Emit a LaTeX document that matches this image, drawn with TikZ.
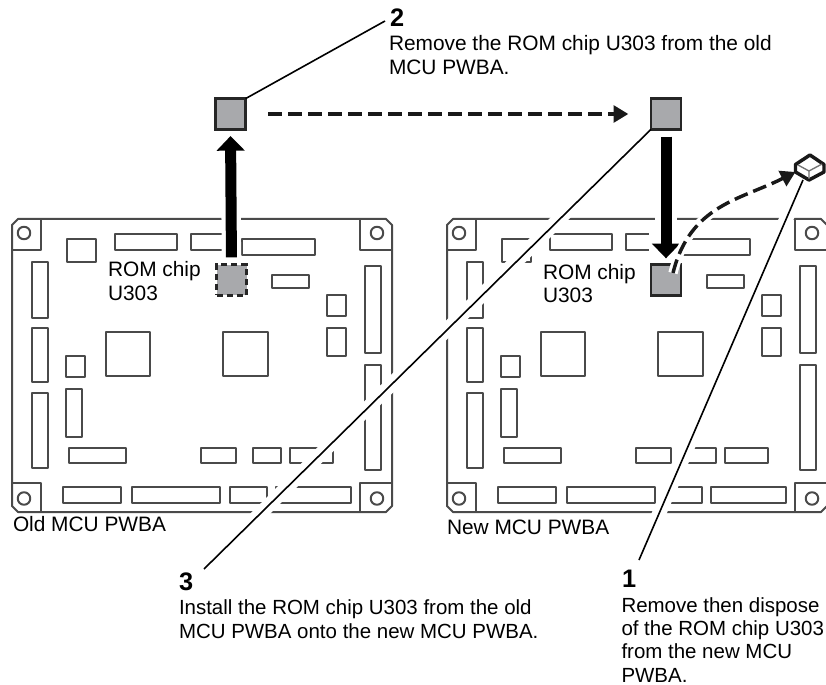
\documentclass[tikz,border=0pt]{standalone}
\usepackage{fontspec}
\setmainfont{Liberation Sans}
\usetikzlibrary{arrows.meta}
\definecolor{chipgray}{HTML}{A8A9AC}
\definecolor{boardline}{HTML}{4A4A4A}
\tikzset{
  boardpart/.style={draw=boardline,line width=1.5pt,line join=round},
  chipbox/.style={draw=black!85,line width=2.1pt,fill=chipgray,minimum width=22.5pt,minimum height=23pt,inner sep=0pt,outer sep=0pt},
  chipghost/.style={chipbox,dash pattern=on 4.5pt off 3pt,line width=2pt},
  label/.style={anchor=base west,inner sep=0pt,outer sep=0pt,font=\fontsize{15.65}{17.5}\selectfont,align=left},
  narrowlabel/.style={label,font=\fontsize{15.35}{17.5}\selectfont},
  stepnum/.style={anchor=base west,inner sep=0pt,outer sep=0pt,font=\fontsize{19}{20}\selectfont\bfseries},
  leader/.style={draw=black,line width=1.2pt},
  halo/.style={draw=white,line width=10.5pt},
  bigarrow/.style={draw=black,line width=8.25pt,-{Triangle[length=11pt,width=20.5pt]}},
  dasharrow/.style={draw=black!90,line width=2.6pt,dash pattern=on 10.5pt off 4.5pt,-{Triangle[length=11pt,width=12.5pt]}},
}
\newcommand{\pwboard}{%
  \draw[boardpart] (18,219)--(386,219)--(392,225)--(392,506)--(386,512)--(18,512)--(12,506)--(12,225)--cycle;
  \draw[boardpart] (12,250)--(41,250)--(41,219);
  \draw[boardpart] (360,219)--(360,250)--(392,250);
  \draw[boardpart] (12,483)--(41,483)--(41,512);
  \draw[boardpart] (392,483)--(360,483)--(360,512);
  \foreach \cx/\cy in {24/233,377/233,24/498.5,377/498.5}
    \draw[boardpart] (\cx,\cy) circle[radius=4.7pt];
  \foreach \xa/\ya/\xb/\yb in {
    67/239/96/262, 115/234/177/250, 191/234/230/250, 242/239/315/255,
    32/262/48/318, 32/328/48/382, 106/332/150/376, 223/332/268/376,
    272/275/309/288, 327/295/346/316, 327/328/346/356,
    365/266/381/353, 365/365/381/470, 66/356/85/377, 66/389/82/437,
    32/393/48/468, 69/448/126/463, 201/448/236/463, 253/448/281/463,
    290/448/333/463, 63/487/121/503, 132/487/220/503, 230/487/267/503,
    276/487/351/503}
    \draw[boardpart] (\xa,\ya) rectangle (\xb,\yb);
}
\begin{document}
\begin{tikzpicture}[x=0.75pt,y=-0.75pt]
\clip (0,0) rectangle (826,685);
\fill[white] (0,0) rectangle (826,685);
% boards
\pwboard
\begin{scope}[shift={(435,0)}]
\pwboard
\end{scope}
% free leader ends
\coordinate (endtwo) at (385,21);
\coordinate (endthree) at (204,569);
\coordinate (endone) at (639,560);
\coordinate (cubefoot) at (803,180);
\coordinate (cubeleft) at (795.5,172);
\coordinate (curvestart) at (673,273);
% chip positions
\coordinate (chipAat) at (230.5,114);
\coordinate (chipBat) at (666,114);
\coordinate (chipCat) at (231.5,280);
\coordinate (chipDat) at (666,280);
% leaders with halos
\path[halo,shorten <=40pt] (chipBat)++(-15.5,15) -- (endthree);
\path[halo,shorten <=8pt] (cubefoot) -- (endone);
\node[chipbox] (chipA) at (chipAat) {};
\node[chipbox] (chipB) at (chipBat) {};
\node[chipghost] (chipC) at (chipCat) {};
\node[chipbox,minimum height=23.5pt] (chipD) at (chipDat) {};
\draw[leader] (chipA.north east) -- (endtwo);
\draw[leader] (chipB.south west) -- (endthree);
\draw[leader] (cubefoot) -- (endone);
% thick arrows
\draw[draw=white,line width=14.5pt,shorten <=6pt,shorten >=9pt] (chipC.north) -- (chipA.south);
\draw[bigarrow,shorten <=5.5pt,shorten >=5pt] (chipC.north) -- (chipA.south);
\draw[draw=white,line width=17pt,shorten <=6pt,shorten >=7pt] (chipB.south) -- (chipD.north);
\draw[draw=white,line width=25pt,shorten <=74pt,shorten >=5pt] (chipB.south) -- (chipD.north);
\draw[bigarrow,shorten <=5.5pt,shorten >=4.5pt] (chipB.south) -- (chipD.north);
\draw[dasharrow,shorten <=17pt,shorten >=17pt] (chipA.east) -- (chipB.west);
% curved dashed arrow with halo
\draw[draw=white,line width=7pt] (curvestart) .. controls (690,205) and (740,200) .. (cubeleft);
\draw[dasharrow] (curvestart) .. controls (690,205) and (740,200) .. (cubeleft);
% discarded chip
\draw[draw=black!90,line width=2.6pt,line join=round,fill=white]
  (810,155)--(824,164.5)--(824,172)--(809,180)--(795.5,172)--(795.5,164.5)--cycle;
\draw[draw=black!55,line width=1pt] (798,165)--(809,171)--(822,164) (809,171)--(809,179);
% texts (base anchor of a multi-line node is its last line)
\node[stepnum] (numtwo) at (390,27) {2};
\node[label] (texttwo) at (389,74.3) {Remove the ROM chip U303 from the old\\MCU PWBA.};
\node[stepnum] (numthree) at (179,590.5) {3};
\node[narrowlabel] (textthree) at (179,638.3) {Install the ROM chip U303 from the old\\MCU PWBA onto the new MCU PWBA.};
\node[stepnum] (numone) at (622,587) {1};
\node[narrowlabel] (textone) at (621.5,682) {Remove then dispose\\of the ROM chip U303\\from the new MCU\\PWBA.};
\node[label] (romold) at (108,300.3) {ROM chip\\U303};
\node[label] (romnew) at (543,302.5) {ROM chip\\U303};
\node[label] (oldname) at (13,531) {Old MCU PWBA};
\node[label] (newname) at (447,534) {New MCU PWBA};
\end{tikzpicture}
\end{document}
